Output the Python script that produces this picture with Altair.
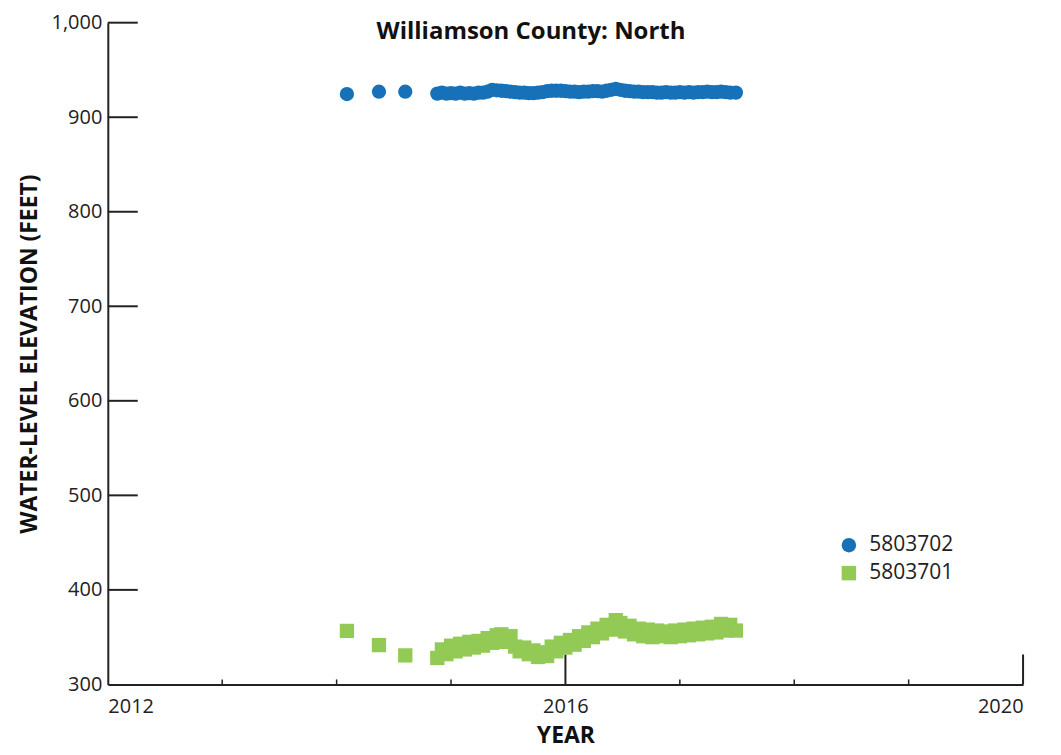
import altair as alt
import pandas as pd

# ---- data ----
iso_years = [2014.09, 2014.37, 2014.60]
iso_5803702 = [924.5, 927.0, 927.0]
iso_5803701 = [356.6, 341.6, 330.7]

dense_years = [
    2014.88, 2014.92, 2014.96, 2015.00, 2015.04, 2015.08, 2015.12, 2015.16, 2015.20, 2015.24,
    2015.28, 2015.32, 2015.36, 2015.40, 2015.44, 2015.48, 2015.52, 2015.56, 2015.60, 2015.64,
    2015.68, 2015.72, 2015.76, 2015.80, 2015.84, 2015.88, 2015.92, 2015.96, 2016.00, 2016.04,
    2016.08, 2016.12, 2016.16, 2016.20, 2016.24, 2016.28, 2016.32, 2016.36, 2016.40, 2016.44,
    2016.48, 2016.52, 2016.56, 2016.60, 2016.64, 2016.68, 2016.72, 2016.76, 2016.80, 2016.84,
    2016.88, 2016.92, 2016.96, 2017.00, 2017.04, 2017.08, 2017.12, 2017.16, 2017.20, 2017.24,
    2017.28, 2017.32, 2017.36, 2017.40, 2017.44, 2017.49,
]
dense_5803702 = [
    925.0, 926.0, 925.0, 925.5, 925.0, 926.0, 925.0, 925.5, 925.0, 926.0,
    926.0, 927.0, 929.0, 928.5, 928.0, 927.5, 927.0, 926.5, 926.0, 926.0,
    925.5, 925.5, 926.0, 926.5, 927.5, 928.0, 928.0, 928.0, 927.5, 927.0,
    927.0, 926.5, 927.0, 927.0, 927.5, 927.5, 927.0, 928.0, 929.0, 930.0,
    929.0, 928.0, 927.5, 927.0, 927.0, 926.5, 926.5, 926.5, 926.0, 926.0,
    926.5, 926.0, 926.0, 926.5, 926.0, 926.5, 926.0, 926.5, 926.5, 927.0,
    926.5, 926.5, 927.0, 926.5, 926.0, 926.0,
]
dense_5803701 = [
    328, 337, 332, 341, 335, 343, 337, 345, 339, 346,
    341, 349, 344, 352, 353, 345, 351, 340, 335, 339,
    332, 336, 329, 334, 330, 340, 335, 344, 339, 347,
    342, 351, 346, 355, 350, 359, 354, 363, 358, 368,
    365, 356, 362, 353, 359, 351, 358, 350, 357, 351,
    356, 350, 357, 351, 358, 352, 359, 353, 360, 354,
    361, 355, 364, 357, 363, 357,
]

series_names = ["5803702", "5803701"]
series_colors = ["#1771b8", "#93c955"]
series_shapes = ["circle", "square"]

x_labels = [2012, 2016, 2020]
x_major_ticks = [2016, 2020]
x_minor_ticks = [2013, 2014, 2015, 2017, 2018, 2019]
y_ticks = [300, 400, 500, 600, 700, 800, 900, 1000]
y_inner_ticks = [400, 500, 600, 700, 800, 900, 1000]
title_text = ["Williamson County: North"]

rows = []
for yr, v in zip(iso_years + dense_years, iso_5803702 + dense_5803702):
    rows.append({"year": yr, "elev": v, "well": "5803702"})
for yr, v in zip(iso_years + dense_years, iso_5803701 + dense_5803701):
    rows.append({"year": yr, "elev": v, "well": "5803701"})
df = pd.DataFrame(rows)

FONT = "Open Sans"
W, H = 917, 663

xscale = alt.Scale(domain=[2012, 2020], nice=False, zero=False)
yscale = alt.Scale(domain=[300, 1000], nice=False, zero=False)

points = alt.Chart(df).mark_point(filled=True, opacity=1, size=205, strokeWidth=0).encode(
    x=alt.X("year:Q", scale=xscale,
            axis=alt.Axis(values=x_labels, format="d", title="YEAR", tickSize=0,
                          labelPadding=12, grid=False, titlePadding=8)),
    y=alt.Y("elev:Q", scale=yscale,
            axis=alt.Axis(values=y_ticks, format=",d", title="WATER-LEVEL ELEVATION (FEET)",
                          tickSize=0, labelPadding=6, grid=False, titlePadding=10)),
    color=alt.Color("well:N", scale=alt.Scale(domain=series_names, range=series_colors),
                    legend=alt.Legend(title=None, orient="none", legendX=732, legendY=513,
                                      labelFont=FONT, labelFontSize=21, labelColor="#222",
                                      symbolSize=210, symbolStrokeWidth=0, rowPadding=6,
                                      labelOffset=10, padding=0)),
    shape=alt.Shape("well:N", scale=alt.Scale(domain=series_names, range=series_shapes)),
    order=alt.Order("well:N", sort="ascending"),
)

ytick_df = pd.DataFrame({"v": y_inner_ticks})
ytick_rules = alt.Chart(ytick_df).mark_rule(color="#222", strokeWidth=2).encode(
    y=alt.Y("v:Q", scale=yscale), x=alt.value(0), x2=alt.value(30)
)
xmaj_df = pd.DataFrame({"v": x_major_ticks})
xmaj_rules = alt.Chart(xmaj_df).mark_rule(color="#222", strokeWidth=2).encode(
    x=alt.X("v:Q", scale=xscale), y=alt.value(H - 30), y2=alt.value(H)
)
xmin_df = pd.DataFrame({"v": x_minor_ticks})
xmin_rules = alt.Chart(xmin_df).mark_rule(color="#222", strokeWidth=1.5).encode(
    x=alt.X("v:Q", scale=xscale), y=alt.value(H - 5), y2=alt.value(H)
)

title_df = pd.DataFrame({"t": title_text})
title_mark = alt.Chart(title_df).mark_text(
    font=FONT, fontSize=24, fontWeight="bold", color="#111", baseline="middle", align="center"
).encode(text="t:N", x=alt.value(424), y=alt.value(9))

chart = alt.layer(ytick_rules, xmaj_rules, xmin_rules, points, title_mark).properties(
    width=W, height=H,
    autosize=alt.AutoSizeParams(type="none"),
    padding={"left": 100, "top": 14, "right": 30, "bottom": 70},
).configure_view(stroke=None).configure_axis(
    domainColor="#222", domainWidth=2, labelFont=FONT, labelFontSize=20, labelColor="#222",
    titleFont=FONT, titleFontSize=23, titleFontWeight="bold", titleColor="#111",
).configure_axisY(labelBaseline="middle")

chart.save("out.html", embed_options={"renderer": "svg", "actions": False})
